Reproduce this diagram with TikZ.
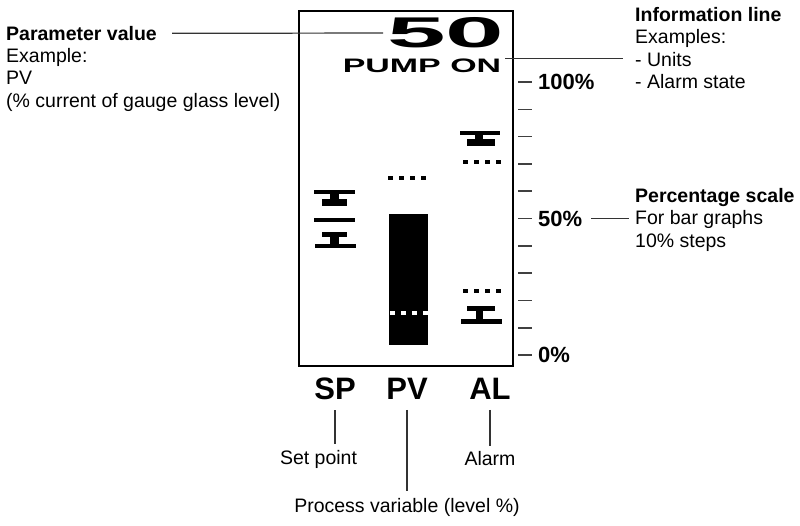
\documentclass[tikz,border=0pt]{standalone}
\usepackage{fontspec}
\setmainfont{Liberation Sans}
\usepackage{graphicx}
\usetikzlibrary{positioning}

\begin{document}
\begin{tikzpicture}[x=1pt,y=-1pt,
note/.style={font=\fontsize{19.5}{22.5}\selectfont, inner sep=0pt, align=left},
headnote/.style={font=\bfseries\fontsize{19.5}{22.5}\selectfont, inner sep=0pt},
scalelbl/.style={font=\bfseries\fontsize{22}{26}\selectfont, inner sep=0pt, anchor=west},
colhead/.style={font=\bfseries\fontsize{31}{36}\selectfont, inner sep=0pt},
lcd/.style={font=\bfseries, inner sep=0pt},
lead/.style={draw=black!80, line width=1.2pt},
tickmark/.style={draw=black!75, line width=1.6pt},
seg/.style={fill=black}
]
    \useasboundingbox (0,0) rectangle (800,525);

    % display frame
    \node [draw, line width=2pt, minimum width=214pt, minimum height=355pt, inner sep=0pt, anchor=north west] (display) at (298,10) {};

    % numeric value and information line
    \node [lcd, font=\bfseries\fontsize{43}{46}\selectfont] (value) at (446,33) {\scalebox{2.45}[1]{50}};
    \node [lcd, font=\bfseries\fontsize{19.5}{22}\selectfont] (pump) at (422,66) {\scalebox{1.74}[1]{PUMP ON}};

    % set point column
    \fill [seg] (314,190) rectangle (355,194);
    \fill [seg] (330,194) rectangle (339,199);
    \fill [seg] (322,199) rectangle (347,206);
    \fill [seg] (314,218) rectangle (355,222);
    \fill [seg] (322,232) rectangle (347,237);
    \fill [seg] (330,237) rectangle (339,244);
    \fill [seg] (315,244) rectangle (356,248);

    % process variable column
    \foreach \x in {388,399,410,421}
        \fill [seg] (\x,176) rectangle ++(5,4);
    \fill [seg] (389,214) rectangle (428,345);
    \foreach \x in {390,401,412,423}
        \fill [white] (\x,311) rectangle ++(5,4);

    % alarm column
    \fill [seg] (460,131) rectangle (500,135);
    \fill [seg] (475,135) rectangle (483,139);
    \fill [seg] (467,139) rectangle (495,146);
    \foreach \x in {463,474,485,496}
        \fill [seg] (\x,160) rectangle ++(5,4);
    \foreach \x in {463,474,485,496}
        \fill [seg] (\x,289) rectangle ++(5,4);
    \fill [seg] (467,306) rectangle (495,311);
    \fill [seg] (476,311) rectangle (483,319);
    \fill [seg] (461,319) rectangle (502,324);

    % percentage scale
    \foreach \i in {0,...,10}
        \draw [tickmark] (518,{82+27.3*\i}) -- ++(14,0);
    \node [scalelbl] (p100) at (538,82) {100\%};
    \node [scalelbl] (p50) at (538,218.5) {50\%};
    \node [scalelbl] (p0) at (538,355) {0\%};

    % column heads
    \node [colhead] (sp) at (335,389) {SP};
    \node [colhead] (pv) at (407,389) {PV};
    \node [colhead] (al) at (490,389) {AL};

    % callouts
    \node [headnote, anchor=north west] (partitle) at (6,26) {Parameter value};
    \node [note, anchor=north west] (parbody) at (6,48) {Example:\\PV\\(\% current of gauge glass level)};
    \node [note, anchor=north west] (info) at (635,7) {\textbf{Information line}\\Examples:\\- Units\\- Alarm state};
    \node [note, anchor=north west] (pct) at (635,188) {\textbf{Percentage scale}\\For bar graphs\\10\% steps};
    \node [note] (setpt) at (318.5,459) {Set point};
    \node [note] (alarm) at (490,459) {Alarm};
    \node [note] (procvar) at (407,507) {Process variable (level \%)};

    \draw [lead, shorten <=15pt, shorten >=4pt] (partitle.east) -- (value.west);
    \draw [lead, shorten <=4pt, shorten >=12pt] (pump.north east) -- (pump.north east -| info.west);
    \draw [lead, shorten <=9pt, shorten >=6pt] (p50.east) -- (p50.east -| pct.west);
    \draw [lead, shorten <=10pt, shorten >=6pt] (sp.south) -- (sp.south |- setpt.north);
    \draw [lead, shorten <=10pt, shorten >=7pt] (pv.south) -- (procvar.north);
    \draw [lead, shorten <=10pt, shorten >=6pt] (al.south) -- (alarm.north);

\end{tikzpicture}
\end{document}
